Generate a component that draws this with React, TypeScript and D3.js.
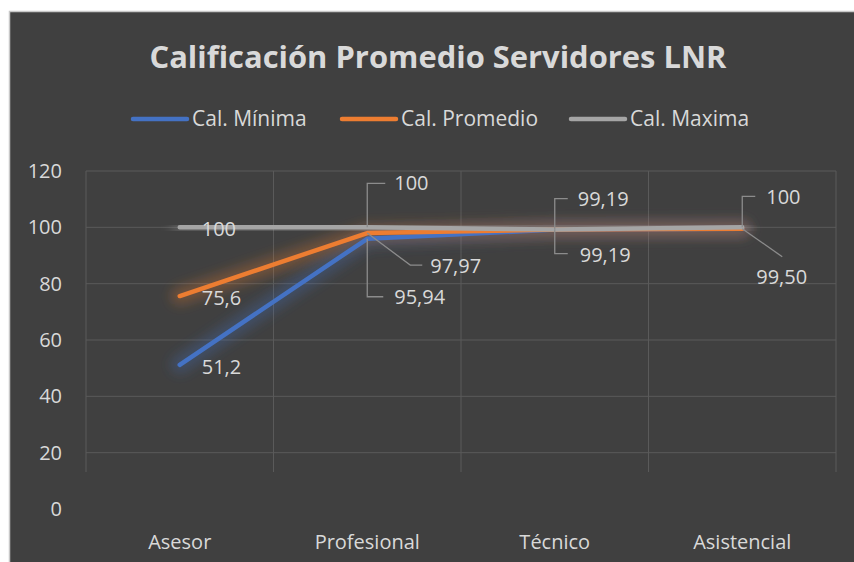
import React from 'react';
import * as d3 from 'd3';

// chart data
const categories = ['Asesor', 'Profesional', 'Técnico', 'Asistencial'];
const calMinima = [51.2, 95.94, 99.19, 99.5];
const calPromedio = [75.6, 97.97, 99.19, 99.5];
const calMaxima = [100, 100, 99.19, 100];
const seriesNames = ['Cal. Mínima', 'Cal. Promedio', 'Cal. Maxima'];
const yTicks = [0, 20, 40, 60, 80, 100, 120];

// data label texts (null = no label shown)
const labelsMinima = ['51,2', '95,94', null, null];
const labelsPromedio = ['75,6', '97,97', '99,19', '99,50'];
const labelsMaxima = ['100', '100', '99,19', '100'];

const title = 'Calificación Promedio Servidores LNR';

const W = 854;
const H = 562;
const colors = ['#4472C4', '#ED7D31', '#A5A5A5'];
const textColor = '#d9d9d9';
const gridColor = '#5a5a5a';
const font = '"Open Sans", sans-serif';

// label placement per series / category: text offset and leader line (relative to the point)
type Place = { tx: number; ty: number; leader?: number[][] };
const right: Place = { tx: 22, ty: 2 };
const placements: Place[][] = [
  [right, { tx: 27, ty: 58, leader: [[0, 0], [0, 58], [16, 58]] }, right, right],
  [right, { tx: 63, ty: 33, leader: [[0, 0], [43, 32], [55, 32]] },
    { tx: 25, ty: 25, leader: [[0, 0], [0, 24], [13, 24]] },
    { tx: 14, ty: 48, leader: [[0, 0], [40, 28]] }],
  [right, { tx: 27, ty: -44, leader: [[0, 0], [0, -44], [18, -44]] },
    { tx: 23, ty: -31, leader: [[0, 0], [0, -31], [13, -31]] },
    { tx: 24, ty: -30, leader: [[0, 0], [0, -31], [13, -31]] }],
];

export default function App() {
  const series = [calMinima, calPromedio, calMaxima];
  const labels = [labelsMinima, labelsPromedio, labelsMaxima];

  const x = d3.scaleBand<string>().domain(categories).range([86, 836]);
  const y = d3.scaleLinear().domain([0, 120]).range([509, 171]);
  const gridBottom = 472;

  const line = d3.line<number>()
    .x((d, i) => (x(categories[i]) as number) + x.bandwidth() / 2)
    .y((d) => y(d));

  const legendX = [133, 342, 571];

  return (
    <svg width={W} height={H} style={{ position: 'absolute', left: 0, top: 0 }}>
      <defs>
        <filter id="glow" x="-20%" y="-60%" width="140%" height="220%">
          <feGaussianBlur stdDeviation="6" />
        </filter>
      </defs>
      <rect x={0} y={0} width={W} height={H} fill="#ffffff" />
      <rect x={9.5} y={11.5} width={W} height={H} fill="#404040" stroke="#c8c8c8" strokeWidth={1.5} />

      {/* title */}
      <text x={438} y={68} textAnchor="middle" fill={textColor} fontFamily={font}
        fontWeight="bold" fontSize={31} textLength={577} lengthAdjust="spacingAndGlyphs">
        {title}
      </text>

      {/* legend */}
      {seriesNames.map((name, i) => (
        <g key={name}>
          <line x1={legendX[i]} x2={legendX[i] + 54} y1={119} y2={119}
            stroke={colors[i]} strokeWidth={4.5} strokeLinecap="round" />
          <text x={legendX[i] + 59} y={119} dy="0.35em" fill={textColor}
            fontFamily={font} fontSize={21}>{name}</text>
        </g>
      ))}

      {/* grid */}
      {yTicks.filter((t) => y(t) <= gridBottom).map((t) => (
        <line key={'h' + t} x1={86} x2={836} y1={y(t)} y2={y(t)} stroke={gridColor} strokeWidth={1} />
      ))}
      {categories.concat(['end']).map((c, i) => {
        const xx = 86 + i * x.bandwidth();
        return <line key={'v' + i} x1={xx} x2={xx} y1={y(120)} y2={gridBottom} stroke={gridColor} strokeWidth={1} />;
      })}

      {/* y axis labels */}
      {yTicks.map((t) => (
        <text key={'yl' + t} x={62} y={y(t)} dy="0.35em" textAnchor="end" fill={textColor}
          fontFamily={font} fontSize={20}>{t}</text>
      ))}

      {/* x axis labels */}
      {categories.map((c) => (
        <text key={c} x={(x(c) as number) + x.bandwidth() / 2} y={542} dy="0.35em" textAnchor="middle"
          fill={textColor} fontFamily={font} fontSize={20}>{c}</text>
      ))}

      {/* glow under the lines */}
      {series.map((s, i) => (
        <path key={'glow' + i} d={line(s) || ''} fill="none" stroke={colors[i]} strokeOpacity={0.28}
          strokeWidth={18} strokeLinecap="round" strokeLinejoin="round" filter="url(#glow)" />
      ))}

      {/* lines */}
      {series.map((s, i) => (
        <path key={'line' + i} d={line(s) || ''} fill="none" stroke={colors[i]}
          strokeWidth={4.5} strokeLinecap="round" strokeLinejoin="round" />
      ))}

      {/* data labels */}
      {series.map((s, i) => s.map((v, j) => {
        const txt = labels[i][j];
        if (txt === null) return null;
        const px = (x(categories[j]) as number) + x.bandwidth() / 2;
        const py = y(v);
        const p = placements[i][j];
        return (
          <g key={'lab' + i + '-' + j}>
            {p.leader && (
              <polyline points={p.leader.map((q) => (px + q[0]) + ',' + (py + q[1])).join(' ')}
                fill="none" stroke="#8c8c8c" strokeWidth={1.3} />
            )}
            <text x={px + p.tx} y={py + p.ty} dy="0.35em" fill={textColor}
              fontFamily={font} fontSize={20}>{txt}</text>
          </g>
        );
      }))}
    </svg>
  );
}
